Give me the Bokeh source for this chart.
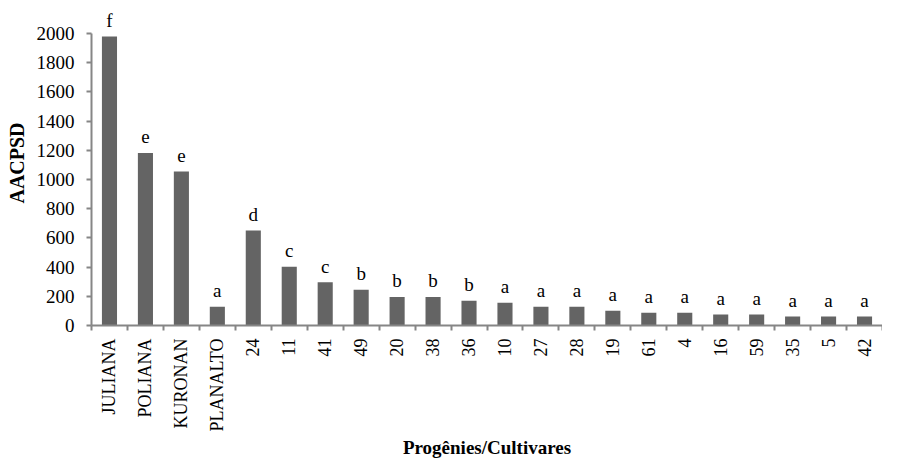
import numpy as np
from bokeh.plotting import figure
from bokeh.models import Range1d, FixedTicker, ColumnDataSource
from bokeh.core.properties import value
from bokeh.embed import file_html
from bokeh.resources import INLINE

categories = ["JULIANA", "POLIANA", "KURONAN", "PLANALTO", "24", "11", "41", "49",
              "20", "38", "36", "10", "27", "28", "19", "61", "4", "16", "59", "35", "5", "42"]
aacpsd = [1980, 1182, 1054, 128, 651, 403, 297, 245,
          196, 196, 169, 155, 128, 128, 101, 88, 88, 76, 76, 61, 61, 61]
letters = ["f", "e", "e", "a", "d", "c", "c", "b",
           "b", "b", "b", "a", "a", "a", "a", "a", "a", "a", "a", "a", "a", "a"]
y_ticks = list(range(0, 2001, 200))

n = len(categories)
xpos = list(range(n))
src = ColumnDataSource(dict(x=xpos, y=aacpsd, lab=letters))

FONT = "Liberation Serif"
AX = "#868686"
BAR = "#646464"

p = figure(width=882, height=460, output_backend="svg", toolbar_location=None,
           x_range=Range1d(-0.5, n - 0.5), y_range=Range1d(0, 2226),
           min_border_left=91, min_border_right=0, min_border_top=0, min_border_bottom=135)
p.background_fill_color = "white"
p.border_fill_color = "white"
p.outline_line_color = None
p.xgrid.visible = False
p.ygrid.visible = False

p.vbar(x="x", top="y", width=0.42, bottom=0, source=src, fill_color=BAR, line_color=None)
p.text(x="x", y="y", text="lab", source=src, text_font=value(FONT), text_font_size="19px",
       text_align="center", text_baseline="alphabetic", y_offset=-16, text_color="black")

# Y axis
ya = p.yaxis[0]
ya.ticker = FixedTicker(ticks=y_ticks)
ya.bounds = (0, 2000)
ya.axis_line_color = AX
ya.axis_line_width = 2
ya.major_tick_line_color = AX
ya.major_tick_line_width = 2
ya.major_tick_out = 5
ya.major_tick_in = 0
ya.minor_tick_line_color = None
ya.major_label_text_font = FONT
ya.major_label_text_font_size = "19px"
ya.major_label_text_color = "black"
ya.major_label_standoff = 12
ya.axis_label = "AACPSD"
ya.axis_label_text_font = FONT
ya.axis_label_text_font_size = "20px"
ya.axis_label_text_font_style = "bold"
ya.axis_label_text_color = "black"
ya.axis_label_standoff = 6

# X axis
xa = p.xaxis[0]
xa.ticker = FixedTicker(ticks=xpos, minor_ticks=[i - 0.5 for i in range(n + 1)])
xa.major_label_overrides = {i: c for i, c in zip(xpos, categories)}
xa.major_label_orientation = np.pi / 2
xa.axis_line_color = AX
xa.axis_line_width = 2
xa.major_tick_line_color = None
xa.major_tick_out = 0
xa.major_tick_in = 0
xa.minor_tick_line_color = AX
xa.minor_tick_line_width = 2
xa.minor_tick_out = 5
xa.minor_tick_in = 0
xa.major_label_text_font = FONT
xa.major_label_text_font_size = "18px"
xa.major_label_text_color = "black"
xa.major_label_standoff = 8
xa.axis_label = "Progênies/Cultivares"
xa.axis_label_text_font = FONT
xa.axis_label_text_font_size = "19px"
xa.axis_label_text_font_style = "bold"
xa.axis_label_text_color = "black"
xa.axis_label_standoff = 2

open("out.html", "w").write(file_html(p, INLINE))
